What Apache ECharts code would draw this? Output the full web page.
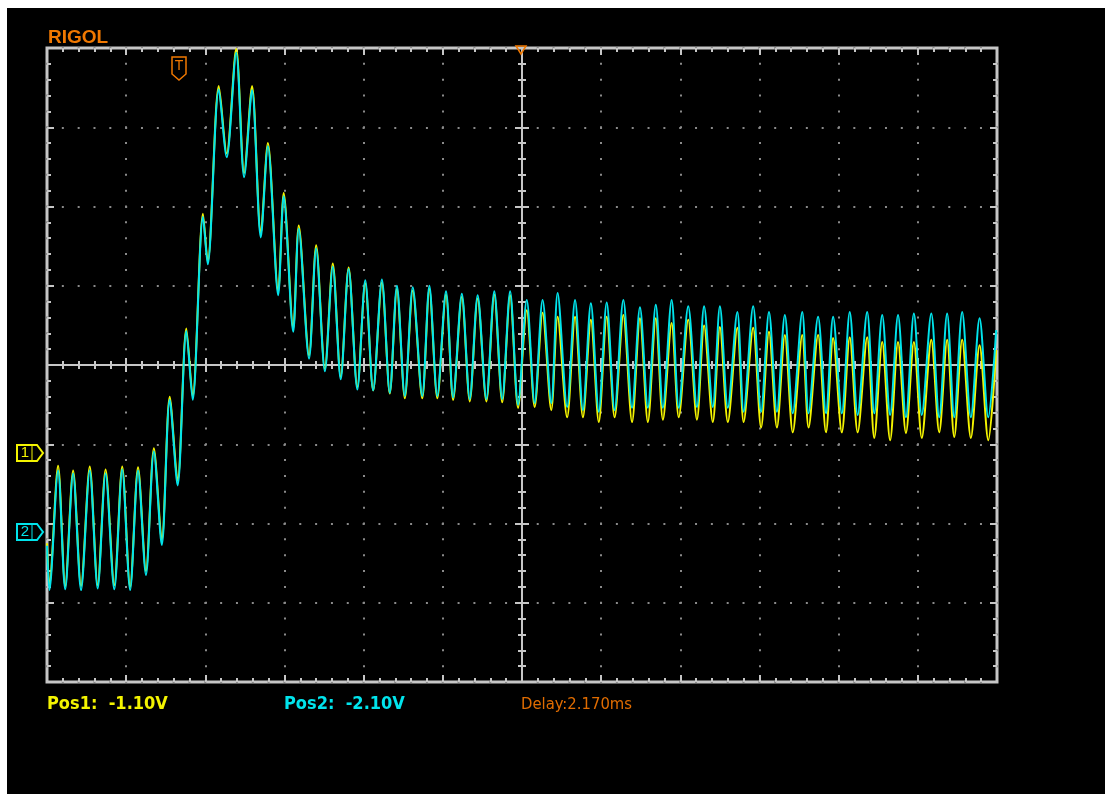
<!DOCTYPE html>
<html>
<head>
<meta charset="utf-8">
<title>RIGOL capture</title>
<script src="https://cdn.jsdelivr.net/npm/echarts@6/dist/echarts.min.js"></script>
<style>
  html, body { margin: 0; padding: 0; background: #ffffff; }
  #scope {
    position: absolute;
    left: 7px;
    top: 8px;
    width: 1098px;
    height: 786px;
    background: #000000;
  }
</style>
</head>
<body>
<div id="scope"></div>
<script>
// screen is 12 x 8 divisions, values below are in divisions, read at each peak / trough
const timeDiv = [
  0.00, 0.03, 0.14, 0.23, 0.33, 0.43, 0.54, 0.64, 0.74, 0.85,
  0.95, 1.05, 1.15, 1.25, 1.35, 1.45, 1.55, 1.65, 1.76, 1.84,
  1.97, 2.03, 2.17, 2.27, 2.39, 2.49, 2.59, 2.70, 2.79, 2.92,
  2.99, 3.11, 3.18, 3.31, 3.40, 3.51, 3.61, 3.71, 3.81, 3.92,
  4.02, 4.12, 4.23, 4.33, 4.42, 4.52, 4.62, 4.74, 4.83, 4.93,
  5.04, 5.13, 5.24, 5.34, 5.44, 5.55, 5.65, 5.75, 5.85, 5.95,
  6.06, 6.16, 6.26, 6.37, 6.45, 6.57, 6.67, 6.77, 6.87, 6.97,
  7.07, 7.17, 7.28, 7.39, 7.49, 7.59, 7.69, 7.78, 7.89, 7.98,
  8.10, 8.21, 8.30, 8.41, 8.50, 8.60, 8.72, 8.80, 8.92, 9.02,
  9.12, 9.22, 9.32, 9.42, 9.54, 9.62, 9.74, 9.84, 9.93, 10.04,
  10.14, 10.24, 10.36, 10.45, 10.55, 10.65, 10.75, 10.85, 10.95, 11.05,
  11.17, 11.27, 11.37, 11.46, 11.56, 11.67, 11.78, 11.89, 11.99
]

// CH1 (yellow)
const ch1Div = [
  -2.25, -2.78, -1.27, -2.79, -1.33, -2.79, -1.28, -2.78, -1.32, -2.78,
  -1.28, -2.80, -1.29, -2.60, -1.05, -2.21, -0.40, -1.46, 0.46, -0.40,
  1.91, 1.30, 3.52, 2.67, 3.99, 2.42, 3.52, 1.66, 2.80, 0.93,
  2.17, 0.46, 1.76, 0.12, 1.51, -0.05, 1.28, -0.15, 1.23, -0.28,
  1.03, -0.32, 1.04, -0.36, 0.96, -0.42, 0.94, -0.42, 0.96, -0.42,
  0.89, -0.44, 0.86, -0.46, 0.84, -0.46, 0.89, -0.47, 0.88, -0.54,
  0.69, -0.53, 0.66, -0.57, 0.61, -0.66, 0.61, -0.66, 0.57, -0.72,
  0.61, -0.66, 0.63, -0.72, 0.59, -0.72, 0.59, -0.69, 0.53, -0.66,
  0.57, -0.69, 0.50, -0.72, 0.48, -0.72, 0.47, -0.72, 0.47, -0.79,
  0.42, -0.79, 0.38, -0.85, 0.38, -0.79, 0.38, -0.85, 0.34, -0.85,
  0.35, -0.85, 0.35, -0.92, 0.29, -0.95, 0.29, -0.86, 0.29, -0.92,
  0.32, -0.85, 0.32, -0.91, 0.32, -0.92, 0.25, -0.95, 0.19
]

// CH2 (cyan)
const ch2Div = [
  -2.28, -2.84, -1.33, -2.83, -1.37, -2.84, -1.33, -2.82, -1.37, -2.83,
  -1.32, -2.84, -1.33, -2.65, -1.09, -2.27, -0.44, -1.52, 0.43, -0.44,
  1.87, 1.27, 3.48, 2.62, 3.94, 2.37, 3.47, 1.61, 2.76, 0.88,
  2.13, 0.42, 1.72, 0.08, 1.47, -0.08, 1.24, -0.18, 1.21, -0.31,
  1.07, -0.32, 1.08, -0.35, 1.00, -0.39, 0.98, -0.39, 1.00, -0.39,
  0.93, -0.41, 0.90, -0.43, 0.88, -0.43, 0.93, -0.43, 0.93, -0.50,
  0.82, -0.48, 0.82, -0.48, 0.91, -0.53, 0.82, -0.57, 0.78, -0.59,
  0.79, -0.57, 0.82, -0.54, 0.73, -0.54, 0.76, -0.54, 0.82, -0.54,
  0.74, -0.53, 0.74, -0.53, 0.74, -0.54, 0.67, -0.59, 0.74, -0.59,
  0.67, -0.59, 0.63, -0.61, 0.67, -0.61, 0.61, -0.61, 0.61, -0.61,
  0.67, -0.63, 0.67, -0.61, 0.63, -0.63, 0.63, -0.66, 0.65, -0.63,
  0.65, -0.66, 0.65, -0.66, 0.67, -0.66, 0.59, -0.66, 0.44
]

const statusLabels = ['Pos1:  -1.10V', 'Pos2:  -2.10V', 'Delay:2.170ms']

const FRAME_COLOR = '#c6c6c6'
const DOT_COLOR = '#8a8a8a'
const CH1_COLOR = '#f4f400'
const CH2_COLOR = '#00e4ec'
const ORANGE = '#f07800'
const NARROW = '"Liberation Sans Narrow", "DejaVu Sans Condensed", sans-serif'

const chart = echarts.init(document.getElementById('scope'))

function scopeAxis(range, position, offset, inside, showLine, dash) {
  return {
    type: 'value',
    min: range[0],
    max: range[1],
    interval: 1,
    position: position,
    offset: offset,
    axisLine: {
      show: showLine,
      onZero: false,
      lineStyle: { color: FRAME_COLOR, width: 2 }
    },
    axisTick: {
      show: true,
      inside: inside,
      length: 7,
      lineStyle: { color: FRAME_COLOR, width: 2 }
    },
    minorTick: {
      show: true,
      splitNumber: 5,
      length: 4,
      lineStyle: { color: FRAME_COLOR, width: 2 }
    },
    axisLabel: { show: false },
    splitLine: dash
      ? { show: true, lineStyle: { color: DOT_COLOR, width: 2, type: dash, dashOffset: 1 } }
      : { show: false },
    minorSplitLine: { show: false }
  }
}

function channelTag(label, x, y, color) {
  return {
    type: 'group',
    x: x,
    y: y,
    children: [
      {
        type: 'polygon',
        shape: { points: [[0, 0], [20, 0], [26, 8], [20, 16], [0, 16]] },
        style: { fill: 'none', stroke: color, lineWidth: 2 }
      },
      {
        type: 'line',
        shape: { x1: 15, y1: 0, x2: 15, y2: 16 },
        style: { stroke: color, lineWidth: 1 }
      },
      {
        type: 'text',
        style: {
          text: label, x: 8, y: 8, align: 'center', verticalAlign: 'middle',
          fill: color, fontSize: 15, fontFamily: 'Liberation Sans'
        }
      }
    ]
  }
}

const option = {
  backgroundColor: '#000000',
  animation: false,
  grid: {
    left: 40,
    top: 40,
    width: 950,
    height: 634,
    show: true,
    backgroundColor: 'transparent',
    borderColor: FRAME_COLOR,
    borderWidth: 3,
    outerBoundsMode: 'none'
  },
  xAxis: [
    scopeAxis([0, 12], 'bottom', 0, true, false, [2, 13.85]),
    scopeAxis([0, 12], 'top', 0, true, false, null),
    scopeAxis([0, 12], 'bottom', -317, true, true, null),
    scopeAxis([0, 12], 'bottom', -317, false, false, null)
  ],
  yAxis: [
    scopeAxis([-4, 4], 'left', 0, true, false, [2, 13.83]),
    scopeAxis([-4, 4], 'right', 0, true, false, null),
    scopeAxis([-4, 4], 'left', -475, true, true, null),
    scopeAxis([-4, 4], 'left', -475, false, false, null)
  ],
  series: [
    {
      name: 'CH1',
      type: 'line',
      xAxisIndex: 0,
      yAxisIndex: 0,
      data: timeDiv.map((t, i) => [t, ch1Div[i]]),
      showSymbol: false,
      smooth: 0.3,
      clip: true,
      lineStyle: { color: CH1_COLOR, width: 2 },
      z: 5
    },
    {
      name: 'CH2',
      type: 'line',
      xAxisIndex: 0,
      yAxisIndex: 0,
      data: timeDiv.map((t, i) => [t, ch2Div[i]]),
      showSymbol: false,
      smooth: 0.3,
      clip: true,
      lineStyle: { color: CH2_COLOR, width: 2 },
      z: 6
    }
  ],
  graphic: [
    {
      type: 'text',
      x: 41,
      y: 20,
      style: {
        text: 'RIGOL', fill: ORANGE, fontSize: 19, fontWeight: 'bold',
        fontFamily: 'Liberation Sans'
      }
    },
    // trigger level marker
    {
      type: 'group',
      x: 165,
      y: 49,
      children: [
        {
          type: 'polygon',
          shape: { points: [[0, 0], [14, 0], [14, 17], [7, 23], [0, 17]] },
          style: { fill: 'none', stroke: ORANGE, lineWidth: 1.5 }
        },
        {
          type: 'text',
          style: {
            text: 'T', x: 7, y: 9, align: 'center', verticalAlign: 'middle',
            fill: ORANGE, fontSize: 14, fontFamily: 'Liberation Sans'
          }
        }
      ]
    },
    // trigger position marker
    {
      type: 'polygon',
      shape: { points: [[509, 38], [519, 38], [514, 46]] },
      style: { fill: 'none', stroke: ORANGE, lineWidth: 1.5 },
      z: 10
    },
    channelTag('1', 10, 437, CH1_COLOR),
    channelTag('2', 10, 516, CH2_COLOR),
    {
      type: 'text',
      x: 40,
      y: 687,
      style: {
        text: statusLabels[0], fill: CH1_COLOR, fontSize: 18, fontWeight: 'bold',
        fontFamily: NARROW
      }
    },
    {
      type: 'text',
      x: 277,
      y: 687,
      style: {
        text: statusLabels[1], fill: CH2_COLOR, fontSize: 18, fontWeight: 'bold',
        fontFamily: NARROW
      }
    },
    {
      type: 'text',
      x: 514,
      y: 688,
      style: {
        text: statusLabels[2], fill: '#e06c00', fontSize: 16.5,
        fontFamily: NARROW
      }
    }
  ]
}

chart.setOption(option)
</script>
</body>
</html>
